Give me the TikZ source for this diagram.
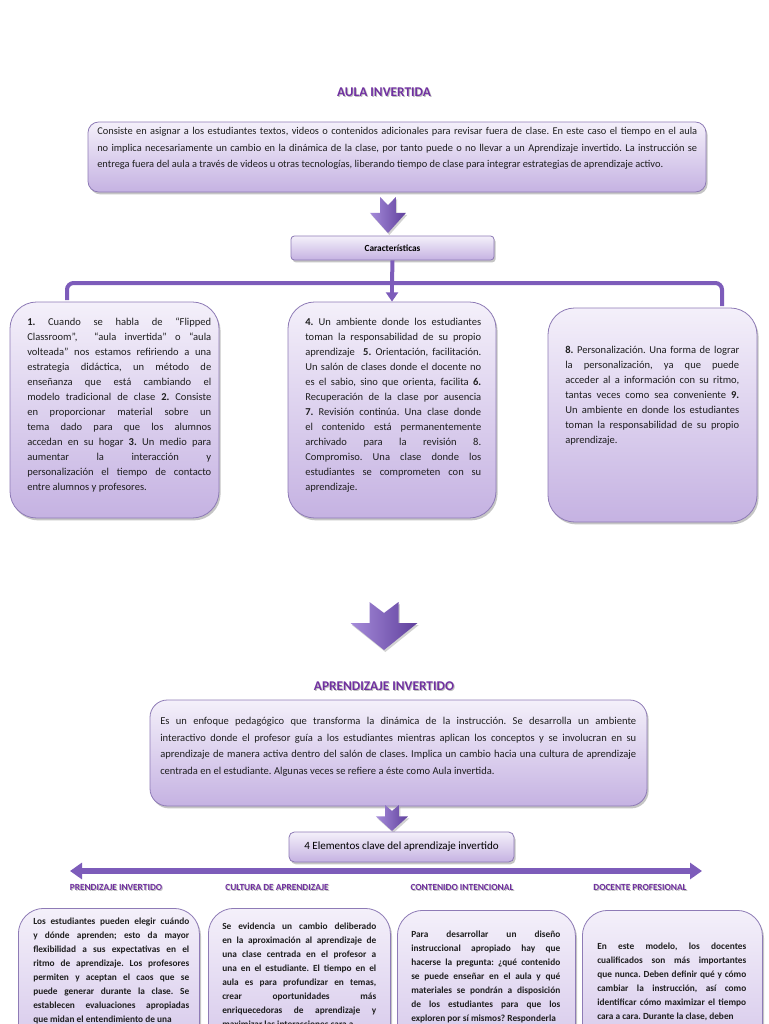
\documentclass[tikz,border=0pt]{standalone}
\usepackage{fontspec}
\setmainfont{Carlito}
\usetikzlibrary{arrows.meta, positioning, calc, shadows}
\frenchspacing

\newdimen\pxu \pxu=0.75pt

\definecolor{ink}{HTML}{1E1E1E}
\definecolor{headline}{HTML}{7030A0}
\definecolor{cardtop}{HTML}{F4F0FA}
\definecolor{cardbot}{HTML}{C5B2E2}
\definecolor{cardrule}{HTML}{8E7BB6}
\definecolor{arrowmid}{HTML}{7D5CBA}
\definecolor{arrowdark}{HTML}{5F3F9C}
\definecolor{arrowlight}{HTML}{A68CDA}

\tikzset{
  font=\fontsize{7.9pt}{11.25pt}\selectfont,
  %
  card/.style={draw=cardrule, line width=0.6pt, top color=cardtop, bottom color=cardbot,
    rounded corners=20pt, inner sep=0pt,
    drop shadow={opacity=0.45, shadow xshift=1.2pt, shadow yshift=-1.8pt}},
  cardtag/.style={card, rounded corners=2.5pt},
  %
  body/.style={anchor=north west, inner sep=0pt, align=justify, text=ink},
  bodybold/.style={body, font=\fontsize{7pt}{10.5pt}\selectfont\bfseries},
  %
  headline/.style={font=\fontsize{10pt}{11pt}\selectfont\bfseries, text=headline, inner sep=1pt},
  headshade/.style={headline, text=black, opacity=0.25},
  tagline/.style={font=\fontsize{7pt}{8pt}\selectfont\bfseries, text=headline, inner sep=1pt},
  tagshade/.style={tagline, text=black, opacity=0.25},
  %
  rail/.style={draw=arrowmid, line width=3pt, rounded corners=5pt},
  dbar/.style={draw=arrowmid, line width=4pt,
    {Triangle[length=9pt, width=12pt]}-{Triangle[length=9pt, width=12pt]}},
  %
  blockarrow/.pic={
    \path[left color=arrowlight, right color=arrowdark,
          drop shadow={opacity=0.35, shadow xshift=1pt, shadow yshift=-1.5pt}]
      (-14.5,0) -- (0,11) -- (14.5,0) -- (14.5,21) -- (33.5,21) -- (0,48)
      -- (-33.5,21) -- (-14.5,21) -- cycle;
  },
}

\begin{document}
\begin{tikzpicture}[x=0.75pt, y=-0.75pt]
  \useasboundingbox (0,0) rectangle (768,1024);
  \clip (0,0) rectangle (768,1024);
  \fill[white] (0,0) rectangle (768,1024);

  % aula invertida
  \node[headshade] (t1s) at (385,93.2) {AULA INVERTIDA};
  \node[headline]  (t1)  at (384,92) {AULA INVERTIDA};

  \node[card, rounded corners=8pt, minimum width=618\pxu, minimum height=70\pxu] (intro) at (397,157) {};
  \node[body, text width=600\pxu, font=\fontsize{7.8pt}{12.4pt}\selectfont] (introt) at (97,127)
    {Consiste en asignar a los estudiantes textos, videos o contenidos adicionales para revisar fuera de clase. En este caso el tiempo en el aula\linebreak
     no implica necesariamente un cambio en la dinámica de la clase, por tanto puede o no llevar a un Aprendizaje invertido. La instrucción se\linebreak
     entrega fuera del aula a través de videos u otras tecnologías, liberando tiempo de clase para integrar estrategias de aprendizaje activo.};

  \pic[xscale=0.54, yscale=0.75] at (388,197) {blockarrow};

  \node[cardtag, minimum width=203\pxu, minimum height=24\pxu,
        font=\fontsize{7pt}{8pt}\selectfont\bfseries] (feat) at (392.5,248) {Características};

  \node[card, minimum width=209\pxu, minimum height=216\pxu] (cola) at (114.5,410) {};
  \node[card, minimum width=208\pxu, minimum height=216\pxu] (colb) at (392,410) {};
  \node[card, minimum width=209\pxu, minimum height=214\pxu] (colc) at (652.5,415) {};

  \coordinate (fork) at (392,283);
  \coordinate (legl) at (67,300);
  \coordinate (legr) at (722,306);
  \draw[rail] (feat.south) -- (fork);
  \draw[rail] (legl) |- (fork) -| (legr);
  \draw[rail, -{Triangle[length=7pt, width=9pt]}] (fork) -- (colb.north);

  \node[body, text width=184\pxu] (colat) at (27,318)
    {\textbf{1.} Cuando se habla de “Flipped\linebreak
     Classroom”, \ “aula invertida” o “aula\linebreak
     volteada” nos estamos refiriendo a una\linebreak
     estrategia didáctica, un método de\linebreak
     enseñanza que está cambiando el\linebreak
     modelo tradicional de clase \textbf{2.} Consiste\linebreak
     en proporcionar material sobre un\linebreak
     tema dado para que los alumnos\linebreak
     accedan en su hogar \textbf{3.} Un medio para\linebreak
     aumentar la interacción y\linebreak
     personalización el tiempo de contacto\linebreak
     entre alumnos y profesores.};
  \node[body, text width=176\pxu] (colbt) at (305,318)
    {\textbf{4.} Un ambiente donde los estudiantes\linebreak
     toman la responsabilidad de su propio\linebreak
     aprendizaje \ \textbf{5.} Orientación, facilitación.\linebreak
     Un salón de clases donde el docente no\linebreak
     es el sabio, sino que orienta, facilita \textbf{6.}\linebreak
     Recuperación de la clase por ausencia\linebreak
     \textbf{7.} Revisión continúa. Una clase donde\linebreak
     el contenido está permanentemente\linebreak
     archivado para la revisión 8.\linebreak
     Compromiso. Una clase donde los\linebreak
     estudiantes se comprometen con su\linebreak
     aprendizaje.};
  \node[body, text width=174\pxu] (colct) at (565,346)
    {\textbf{8.} Personalización. Una forma de lograr\linebreak
     la personalización, ya que puede\linebreak
     acceder al a información con su ritmo,\linebreak
     tantas veces como sea conveniente \textbf{9.}\linebreak
     Un ambiente en donde los estudiantes\linebreak
     toman la responsabilidad de su propio\linebreak
     aprendizaje.};

  % aprendizaje invertido
  \pic at (384,602) {blockarrow};

  \node[headshade] (t2s) at (385,687.2) {APRENDIZAJE INVERTIDO};
  \node[headline]  (t2)  at (384,686) {APRENDIZAJE INVERTIDO};

  \node[card, rounded corners=13pt, minimum width=497\pxu, minimum height=106\pxu] (flip) at (398.5,753) {};
  \node[body, text width=476\pxu, font=\fontsize{7.9pt}{12.5pt}\selectfont] (flipt) at (160,717)
    {Es un enfoque pedagógico que transforma la dinámica de la instrucción. Se desarrolla un ambiente\linebreak
     interactivo donde el profesor guía a los estudiantes mientras aplican los conceptos y se involucran en su\linebreak
     aprendizaje de manera activa dentro del salón de clases. Implica un cambio hacia una cultura de aprendizaje\linebreak
     centrada en el estudiante. Algunas veces se refiere a éste como Aula invertida.};

  \pic[xscale=0.48, yscale=0.54] at (392,805) {blockarrow};

  \coordinate (raill) at (70,871);
  \coordinate (railr) at (702,871);
  \draw[dbar] (raill) -- (railr);

  \node[cardtag, rounded corners=4pt, minimum width=225\pxu, minimum height=30\pxu,
        font=\fontsize{8.3pt}{9pt}\selectfont] (keys) at (401.5,847) {4 Elementos clave del aprendizaje invertido};

  \foreach \x/\t [count=\i] in {116/PRENDIZAJE INVERTIDO, 277/CULTURA DE APRENDIZAJE,
                                462/CONTENIDO INTENCIONAL, 640/DOCENTE PROFESIONAL} {
    \node[tagshade] (k\i s) at (\x+1,888) {\t};
    \node[tagline]  (k\i)   at (\x,887) {\t};
  }

  \foreach \x/\y/\w [count=\i] in {18/908/181, 208/908/182, 397/910/178, 582/910/180} {
    \node[card, rounded corners=19pt, anchor=north west,
          minimum width=\w\pxu, minimum height=220\pxu] (el\i) at (\x,\y) {};
  }

  \node[bodybold, text width=156\pxu] (el1t) at (33,918)
    {Los estudiantes pueden elegir cuándo\linebreak
     y dónde aprenden; esto da mayor\linebreak
     flexibilidad a sus expectativas en el\linebreak
     ritmo de aprendizaje. Los profesores\linebreak
     permiten y aceptan el caos que se\linebreak
     puede generar durante la clase. Se\linebreak
     establecen evaluaciones apropiadas\linebreak
     que midan el entendimiento de una};
  \node[bodybold, text width=154\pxu] (el2t) at (222,923)
    {Se evidencia un cambio deliberado\linebreak
     en la aproximación al aprendizaje de\linebreak
     una clase centrada en el profesor a\linebreak
     una en el estudiante. El tiempo en el\linebreak
     aula es para profundizar en temas,\linebreak
     crear oportunidades más\linebreak
     enriquecedoras de aprendizaje y\linebreak
     maximizar las interacciones cara a};
  \node[bodybold, text width=149\pxu] (el3t) at (411,931)
    {Para desarrollar un diseño\linebreak
     instruccional apropiado hay que\linebreak
     hacerse la pregunta: ¿qué contenido\linebreak
     se puede enseñar en el aula y qué\linebreak
     materiales se pondrán a disposición\linebreak
     de los estudiantes para que los\linebreak
     exploren por sí mismos? Responderla};
  \node[bodybold, text width=149\pxu] (el4t) at (597,943)
    {En este modelo, los docentes\linebreak
     cualificados son más importantes\linebreak
     que nunca. Deben definir qué y cómo\linebreak
     cambiar la instrucción, así como\linebreak
     identificar cómo maximizar el tiempo\linebreak
     cara a cara. Durante la clase, deben};

\end{tikzpicture}
\end{document}
